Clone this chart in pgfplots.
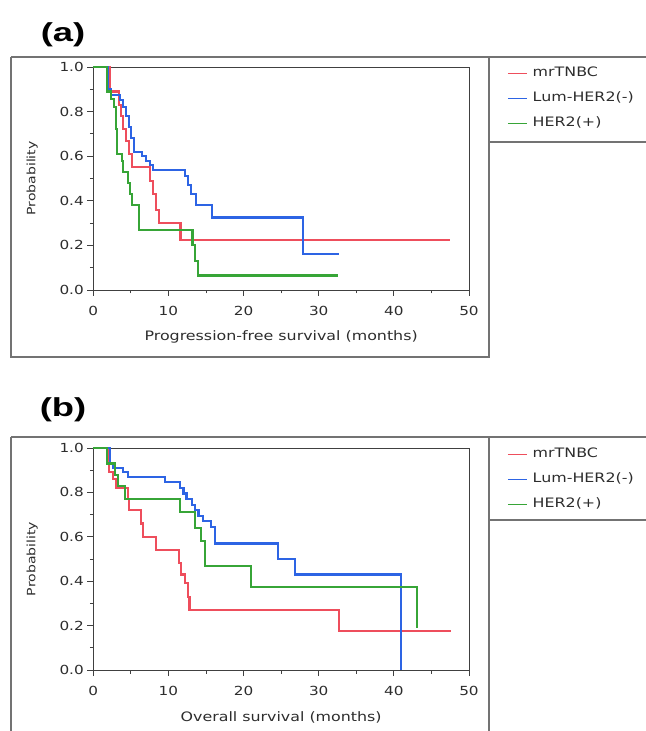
\documentclass[border=0pt]{standalone}
\usepackage{pgfplots}
\pgfplotsset{compat=1.18}
\usepackage{fontspec}
\usepackage{graphicx}
\setmainfont{DejaVu Sans}[FakeStretch=1.22]
\newfontfamily\panelfont{Liberation Sans}[FakeStretch=1.4]
\definecolor{cred}{RGB}{238,78,92}
\definecolor{cblue}{RGB}{45,100,228}
\definecolor{cgreen}{RGB}{55,165,55}
\definecolor{frame}{RGB}{115,115,115}
\definecolor{txt}{RGB}{45,45,45}
\pgfplotsset{
  kmstyle/.style={
    scale only axis, width=375.7bp,
    xmin=0, xmax=50, ymin=0, ymax=1,
    xtick={0,10,20,30,40,50}, ytick={0,0.2,0.4,0.6,0.8,1},
    minor x tick num=1, minor y tick num=1,
    tick align=outside, tick pos=left,
    major tick length=6bp, minor tick length=3.5bp,
    axis line style={black!75, line width=0.9bp},
    tick style={black!75, line width=0.9bp},
    /pgf/number format/assume math mode=true,
    ticklabel style={font=\fontsize{12.5bp}{14bp}\selectfont, text=txt},
    xticklabel style={yshift=-7bp},
    yticklabel style={/pgf/number format/.cd, fixed, fixed zerofill, precision=1},
    label style={text=txt},
    xlabel style={font=\fontsize{13bp}{15bp}\selectfont, anchor=center},
    ylabel style={font=\fontsize{11.5bp}{13bp}\selectfont, anchor=center, at={(axis description cs:-0.1624,0.5)}},
    clip=false,
    legend cell align=left,
    legend style={draw=none, fill=none, inner sep=0pt, anchor=north west,
      at={(axis description cs:1.101,1.004)},
      font=\fontsize{13bp}{15bp}\selectfont, text=txt,
      nodes={inner sep=1bp, text height=9.5bp, text depth=2.5bp},
      row sep=11bp,
      /tikz/every odd column/.append style={column sep=4bp}},
    legend image code/.code={\draw[#1, line width=1.6bp] (0bp,0bp) -- (19bp,0bp);},
    every axis plot/.append style={line width=2.1bp, no marks, const plot},
  }
}
\begin{document}
\begin{tikzpicture}
\useasboundingbox (0,0) rectangle (646bp,731bp);
% frames panel (a)
\draw[frame, line width=1.4bp] (11bp,674bp) -- (646bp,674bp);
\draw[frame, line width=1.4bp] (11bp,674bp) -- (11bp,374bp) -- (489bp,374bp) -- (489bp,674bp);
\draw[frame, line width=1.4bp] (489bp,589bp) -- (646bp,589bp);
% frames panel (b)
\draw[frame, line width=1.4bp] (11bp,294bp) -- (646bp,294bp);
\draw[frame, line width=1.4bp] (11bp,0bp) -- (11bp,294bp);
\draw[frame, line width=1.4bp] (489bp,0bp) -- (489bp,294bp);
\draw[frame, line width=1.4bp] (489bp,211bp) -- (646bp,211bp);
% panel labels
\node[anchor=center, inner sep=0pt] at (63bp,696bp) {\panelfont\bfseries\fontsize{26bp}{30bp}\selectfont (a)};
\node[anchor=center, inner sep=0pt] at (63bp,321bp) {\panelfont\bfseries\fontsize{26bp}{30bp}\selectfont (b)};

\begin{axis}[kmstyle, height=223bp, at={(93.3bp,441bp)}, anchor=south west,
  xlabel={Progression-free survival (months)},
  xlabel style={at={(axis description cs:0.5,-0.2108)}},
  ylabel={Probability}]
\addplot[cred] coordinates {(0,1)(2.2,0.89)(3.4,0.83)(3.7,0.78)(4.0,0.72)(4.3,0.67)(4.8,0.61)(5.2,0.55)(7.6,0.49)(7.9,0.43)(8.3,0.36)(8.7,0.30)(11.6,0.225)(47.5,0.225)};
\addplot[cblue] coordinates {(0,1)(2.0,0.90)(2.4,0.875)(3.5,0.85)(4.0,0.82)(4.4,0.78)(4.8,0.73)(5.0,0.68)(5.4,0.62)(6.5,0.60)(7.0,0.58)(7.5,0.56)(8.0,0.54)(12.2,0.51)(12.6,0.47)(13.0,0.43)(13.7,0.38)(15.8,0.325)(27.9,0.16)(32.7,0.16)};
\addplot[cgreen] coordinates {(0,1)(1.8,0.89)(2.4,0.855)(2.7,0.82)(3.0,0.72)(3.2,0.61)(3.8,0.58)(4.0,0.53)(4.6,0.48)(4.9,0.43)(5.1,0.38)(6.1,0.27)(13.2,0.20)(13.5,0.13)(13.9,0.065)(32.6,0.065)};
\legend{mrTNBC,Lum-HER2(-),HER2(+)}
\end{axis}

\begin{axis}[kmstyle, height=222bp, at={(93.3bp,61bp)}, anchor=south west,
  xlabel={Overall survival (months)},
  xlabel style={at={(axis description cs:0.5,-0.2117)}},
  ylabel={Probability}]
\addplot[cred] coordinates {(0,1)(2.1,0.89)(2.6,0.86)(3.0,0.82)(4.6,0.77)(4.8,0.72)(6.4,0.66)(6.6,0.60)(8.4,0.54)(11.4,0.48)(11.7,0.43)(12.2,0.39)(12.6,0.33)(12.8,0.27)(32.7,0.176)(47.6,0.176)};
\addplot[cblue] coordinates {(0,1)(2.2,0.93)(2.6,0.91)(4.0,0.89)(4.6,0.87)(9.5,0.845)(11.5,0.82)(12.0,0.795)(12.4,0.77)(13.1,0.745)(13.5,0.72)(14.0,0.695)(14.6,0.67)(15.7,0.645)(16.2,0.57)(24.6,0.50)(26.8,0.43)(40.9,0)};
\addplot[cgreen] coordinates {(0,1)(1.8,0.93)(2.9,0.88)(3.3,0.83)(4.2,0.77)(11.5,0.71)(13.5,0.64)(14.3,0.58)(14.9,0.47)(21.0,0.375)(43.1,0.19)};
\legend{mrTNBC,Lum-HER2(-),HER2(+)}
\end{axis}
\end{tikzpicture}
\end{document}
